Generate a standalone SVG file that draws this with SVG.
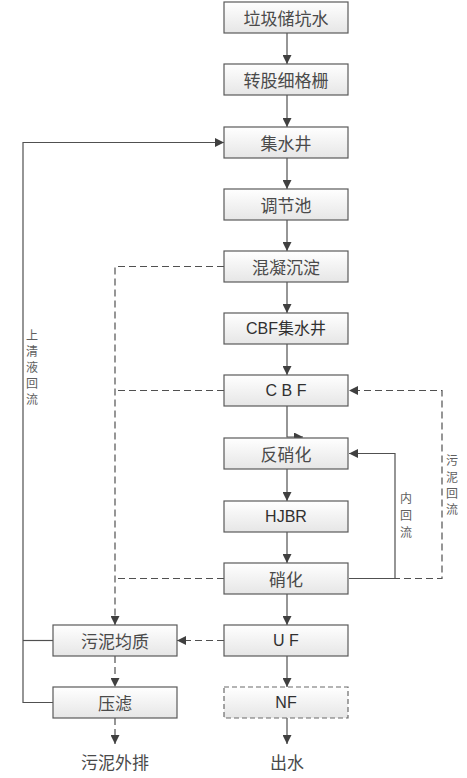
<svg xmlns="http://www.w3.org/2000/svg" width="467" height="778" viewBox="0 0 467 778">
<defs>
<linearGradient id="g" x1="0" y1="0" x2="0" y2="1">
<stop offset="0" stop-color="#ffffff"/>
<stop offset="1" stop-color="#e6e6e6"/>
</linearGradient>
<marker id="a" viewBox="0 0 10 10" refX="10" refY="5" markerWidth="9" markerHeight="9" markerUnits="userSpaceOnUse" orient="auto">
<path d="M0,0 L10,5 L0,10 z" fill="#404040"/>
</marker>
<style>
.box{fill:url(#g);stroke:#5a5a5a;stroke-width:1.2}
.dbox{fill:url(#g);stroke:#6a6a6a;stroke-width:1.2;stroke-dasharray:5 3}
.t{font-family:"Noto Sans CJK SC","Liberation Sans",sans-serif;font-size:17px;fill:#4a4a4a;text-anchor:middle;dominant-baseline:central}
.l{font-family:"Liberation Sans","Noto Sans CJK SC",sans-serif;font-size:16px;fill:#303030;text-anchor:middle;dominant-baseline:central}
.s{font-family:"Noto Sans CJK SC",sans-serif;font-size:12px;fill:#606060;text-anchor:middle;dominant-baseline:central}
.c{fill:none;stroke:#505050;stroke-width:1.2}
.d{fill:none;stroke:#505050;stroke-width:1.2;stroke-dasharray:7 4}
</style>
</defs>
<g id="connectors">
<path class="c" d="M287,33 V64" marker-end="url(#a)"/>
<path class="c" d="M287,95 V127" marker-end="url(#a)"/>
<path class="c" d="M287,158 V189" marker-end="url(#a)"/>
<path class="c" d="M287,220 V251" marker-end="url(#a)"/>
<path class="c" d="M287,282 V313" marker-end="url(#a)"/>
<path class="c" d="M287,344 V375" marker-end="url(#a)"/>
<path class="c" d="M287,406 V437 H303" marker-end="url(#a)"/>
<path class="c" d="M287,469 V501" marker-end="url(#a)"/>
<path class="c" d="M287,532 V563" marker-end="url(#a)"/>
<path class="c" d="M287,594 V625" marker-end="url(#a)"/>
<path class="c" d="M287,656 V687" marker-end="url(#a)"/>
<path class="c" d="M287,718 V744" marker-end="url(#a)"/>
<path class="c" d="M53,702.5 H23 V142.5 H224" marker-end="url(#a)"/>
<path class="c" d="M23,640.5 H53"/>
<path class="c" d="M349,578.5 H395 V453.5 H349" marker-end="url(#a)"/>
<path class="d" d="M349,578.5 H442 V390.5 H349" marker-end="url(#a)"/>
<path class="d" d="M224,266.5 H115 V625" marker-end="url(#a)"/>
<path class="d" d="M224,390.5 H115"/>
<path class="d" d="M224,578.5 H115"/>
<path class="d" d="M224,640.5 H177" marker-end="url(#a)"/>
<path class="d" d="M115,656 V687" marker-end="url(#a)"/>
<path class="d" d="M115,718 V744" marker-end="url(#a)"/>
</g>
<g id="n1"><rect class="box" x="224" y="2" width="124" height="31"/><text class="t" x="286" y="17.5">垃圾储坑水</text></g>
<g id="n2"><rect class="box" x="224" y="64" width="124" height="31"/><text class="t" x="286" y="79.5">转股细格栅</text></g>
<g id="n3"><rect class="box" x="224" y="127" width="124" height="31"/><text class="t" x="286" y="142.5">集水井</text></g>
<g id="n4"><rect class="box" x="224" y="189" width="124" height="31"/><text class="t" x="286" y="204.5">调节池</text></g>
<g id="n5"><rect class="box" x="224" y="251" width="124" height="31"/><text class="t" x="286" y="266.5">混凝沉淀</text></g>
<g id="n6"><rect class="box" x="224" y="313" width="124" height="31"/><text class="l" x="286" y="328.5">CBF集水井</text></g>
<g id="n7"><rect class="box" x="224" y="375" width="124" height="31"/><text class="l" x="286" y="390.5">C B F</text></g>
<g id="n8"><rect class="box" x="224" y="438" width="124" height="31"/><text class="t" x="286" y="453.5">反硝化</text></g>
<g id="n9"><rect class="box" x="224" y="501" width="124" height="31"/><text class="l" x="286" y="516.5">HJBR</text></g>
<g id="n10"><rect class="box" x="224" y="563" width="124" height="31"/><text class="t" x="286" y="578.5">硝化</text></g>
<g id="n11"><rect class="box" x="224" y="625" width="124" height="31"/><text class="l" x="286" y="640.5">U F</text></g>
<g id="n12"><rect class="dbox" x="224" y="687" width="124" height="31"/><text class="l" x="286" y="702.5">NF</text></g>
<g id="n13"><rect class="box" x="53" y="625" width="124" height="31"/><text class="t" x="115" y="640.5">污泥均质</text></g>
<g id="n14"><rect class="box" x="53" y="687" width="124" height="31"/><text class="t" x="115" y="702.5">压滤</text></g>
<g id="n15"><text class="t" x="115" y="761">污泥外排</text></g>
<g id="n16"><text class="t" x="287" y="761">出水</text></g>
<g id="labels">
<text class="s" x="32" y="334">上</text>
<text class="s" x="32" y="350">清</text>
<text class="s" x="32" y="366">液</text>
<text class="s" x="32" y="382">回</text>
<text class="s" x="32" y="398">流</text>
<text class="s" x="406" y="497">内</text>
<text class="s" x="406" y="514">回</text>
<text class="s" x="406" y="531">流</text>
<text class="s" x="452" y="459">污</text>
<text class="s" x="452" y="476">泥</text>
<text class="s" x="452" y="492">回</text>
<text class="s" x="452" y="508">流</text>
</g>
</svg>
